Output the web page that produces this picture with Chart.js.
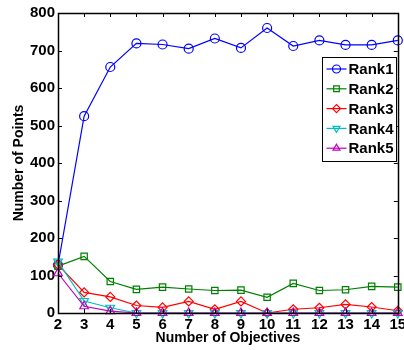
<!DOCTYPE html>
<html>
<head>
<meta charset="utf-8">
<script src="https://cdn.jsdelivr.net/npm/chart.js@4/dist/chart.umd.min.js"></script>
<style>
  html, body { margin: 0; padding: 0; background: #fff; }
  #wrap { width: 404px; height: 350px; }
</style>
</head>
<body>
<div id="wrap"><canvas id="rank-chart" width="404" height="350"></canvas></div>
<script>
// Values
const objectives = [2, 3, 4, 5, 6, 7, 8, 9, 10, 11, 12, 13, 14, 15];
const rank1 = [128, 525, 656, 719, 716, 705, 732, 707, 760, 712, 727, 715, 715, 727];
const rank2 = [125, 151, 84, 63, 69, 64, 60, 61, 42, 79, 60, 62, 71, 69];
const rank3 = [129, 55, 43, 20, 15, 31, 10, 31, 0, 10, 14, 23, 16, 6];
const rank4 = [137, 32, 14, 0, 0, 0, 0, 0, 0, 0, 0, 0, 0, 0];
const rank5 = [106, 18, 5, 0, 0, 0, 0, 0, 0, 0, 0, 0, 0, 0];
const xTicks = objectives;
const yTicks = [0, 100, 200, 300, 400, 500, 600, 700, 800];

const FONT = 'Liberation Sans, Arial, Helvetica, sans-serif';

function series(label, values, color, style, order, rotation) {
  return {
    label: label,
    data: objectives.map((x, i) => ({ x: x, y: values[i] })),
    borderColor: color,
    backgroundColor: 'rgba(0,0,0,0)',
    borderWidth: 1.2,
    pointStyle: style,
    pointRadius: style === 'triangle' ? 5 : 4.5,
    pointRotation: rotation || 0,
    pointBorderWidth: 1.2,
    pointBackgroundColor: 'rgba(0,0,0,0)',
    tension: 0,
    clip: false,
    order: order,
  };
}

const datasets = [
  series('Rank1', rank1, '#0000ff', 'circle', 5),
  series('Rank2', rank2, '#008000', 'rect', 4),
  series('Rank3', rank3, '#ff0000', 'rectRot', 3),
  series('Rank4', rank4, '#00bfbf', 'triangle', 2, 180),
  series('Rank5', rank5, '#bf00bf', 'triangle', 1),
];

// MATLAB-style box with inward ticks on all four sides
const boxPlugin = {
  id: 'box',
  afterDatasetsDraw(chart) {
    const { ctx, chartArea: a, scales } = chart;
    ctx.save();
    ctx.strokeStyle = '#000';
    ctx.lineWidth = 1;
    const t = 4;
    ctx.beginPath();
    xTicks.forEach(v => {
      const px = Math.round(scales.x.getPixelForValue(v)) + 0.5;
      ctx.moveTo(px, a.bottom); ctx.lineTo(px, a.bottom - t);
      ctx.moveTo(px, a.top); ctx.lineTo(px, a.top + t);
    });
    yTicks.forEach(v => {
      const py = Math.round(scales.y.getPixelForValue(v)) + 0.5;
      ctx.moveTo(a.left, py); ctx.lineTo(a.left + t, py);
      ctx.moveTo(a.right, py); ctx.lineTo(a.right - t, py);
    });
    ctx.stroke();
    ctx.lineWidth = 1.5;
    ctx.strokeRect(Math.round(a.left) + 0.5, Math.round(a.top) + 0.5,
      Math.round(a.right - a.left), Math.round(a.bottom - a.top));

    // legend inside the axes, upper right
    const lx = 322.5, ly = 57.5, lw = 74, lh = 104, row = 19.8;
    ctx.fillStyle = '#fff';
    ctx.fillRect(lx, ly, lw, lh);
    ctx.strokeStyle = '#000';
    ctx.lineWidth = 1;
    ctx.strokeRect(lx, ly, lw, lh);
    ctx.font = 'bold 15px ' + FONT;
    ctx.textBaseline = 'middle';
    ctx.textAlign = 'left';
    chart.data.datasets.forEach((ds, i) => {
      const y = ly + 11.5 + i * row;
      ctx.strokeStyle = ds.borderColor;
      ctx.lineWidth = 1.2;
      ctx.beginPath();
      ctx.moveTo(lx + 4, y); ctx.lineTo(lx + 24, y);
      ctx.stroke();
      ctx.fillStyle = 'rgba(0,0,0,0)';
      Chart.helpers.drawPoint(ctx, {
        pointStyle: ds.pointStyle,
        rotation: ds.pointRotation,
        radius: 4,
        borderWidth: 1.2,
      }, lx + 14, y);
      ctx.fillStyle = '#000';
      ctx.fillText(ds.label, lx + 26, y + 1);
    });
    ctx.restore();
  },
};

new Chart(document.getElementById('rank-chart'), {
  type: 'line',
  data: { datasets: datasets },
  plugins: [boxPlugin],
  options: {
    responsive: false,
    animation: false,
    events: [],
    layout: { padding: { top: 13, right: 4, left: 0, bottom: 0 } },
    plugins: { legend: { display: false }, tooltip: { enabled: false } },
    scales: {
      x: {
        type: 'linear',
        min: 2,
        max: 15,
        afterBuildTicks: s => { s.ticks = xTicks.map(v => ({ value: v })); },
        afterFit: s => { s.height = 37; s.paddingLeft = 0; s.paddingRight = 0; },
        ticks: {
          color: '#000',
          padding: 3,
          font: { family: FONT, size: 15, weight: 'bold' },
          maxRotation: 0,
          autoSkip: false,
        },
        grid: { display: false, drawTicks: false },
        border: { display: false },
        title: {
          display: true,
          text: 'Number of Objectives',
          color: '#000',
          font: { family: FONT, size: 14, weight: 'bold' },
          padding: { top: 0, bottom: 3 },
        },
      },
      y: {
        min: 0,
        max: 800,
        afterBuildTicks: s => { s.ticks = yTicks.map(v => ({ value: v })); },
        afterFit: s => { s.width = 58; s.paddingTop = 0; s.paddingBottom = 0; },
        ticks: {
          color: '#000',
          padding: 3,
          font: { family: FONT, size: 15, weight: 'bold' },
        },
        grid: { display: false, drawTicks: false },
        border: { display: false },
        title: {
          display: true,
          text: 'Number of Points',
          color: '#000',
          font: { family: FONT, size: 14, weight: 'bold' },
          padding: { top: 11, bottom: 0 },
        },
      },
    },
  },
});
</script>
</body>
</html>
